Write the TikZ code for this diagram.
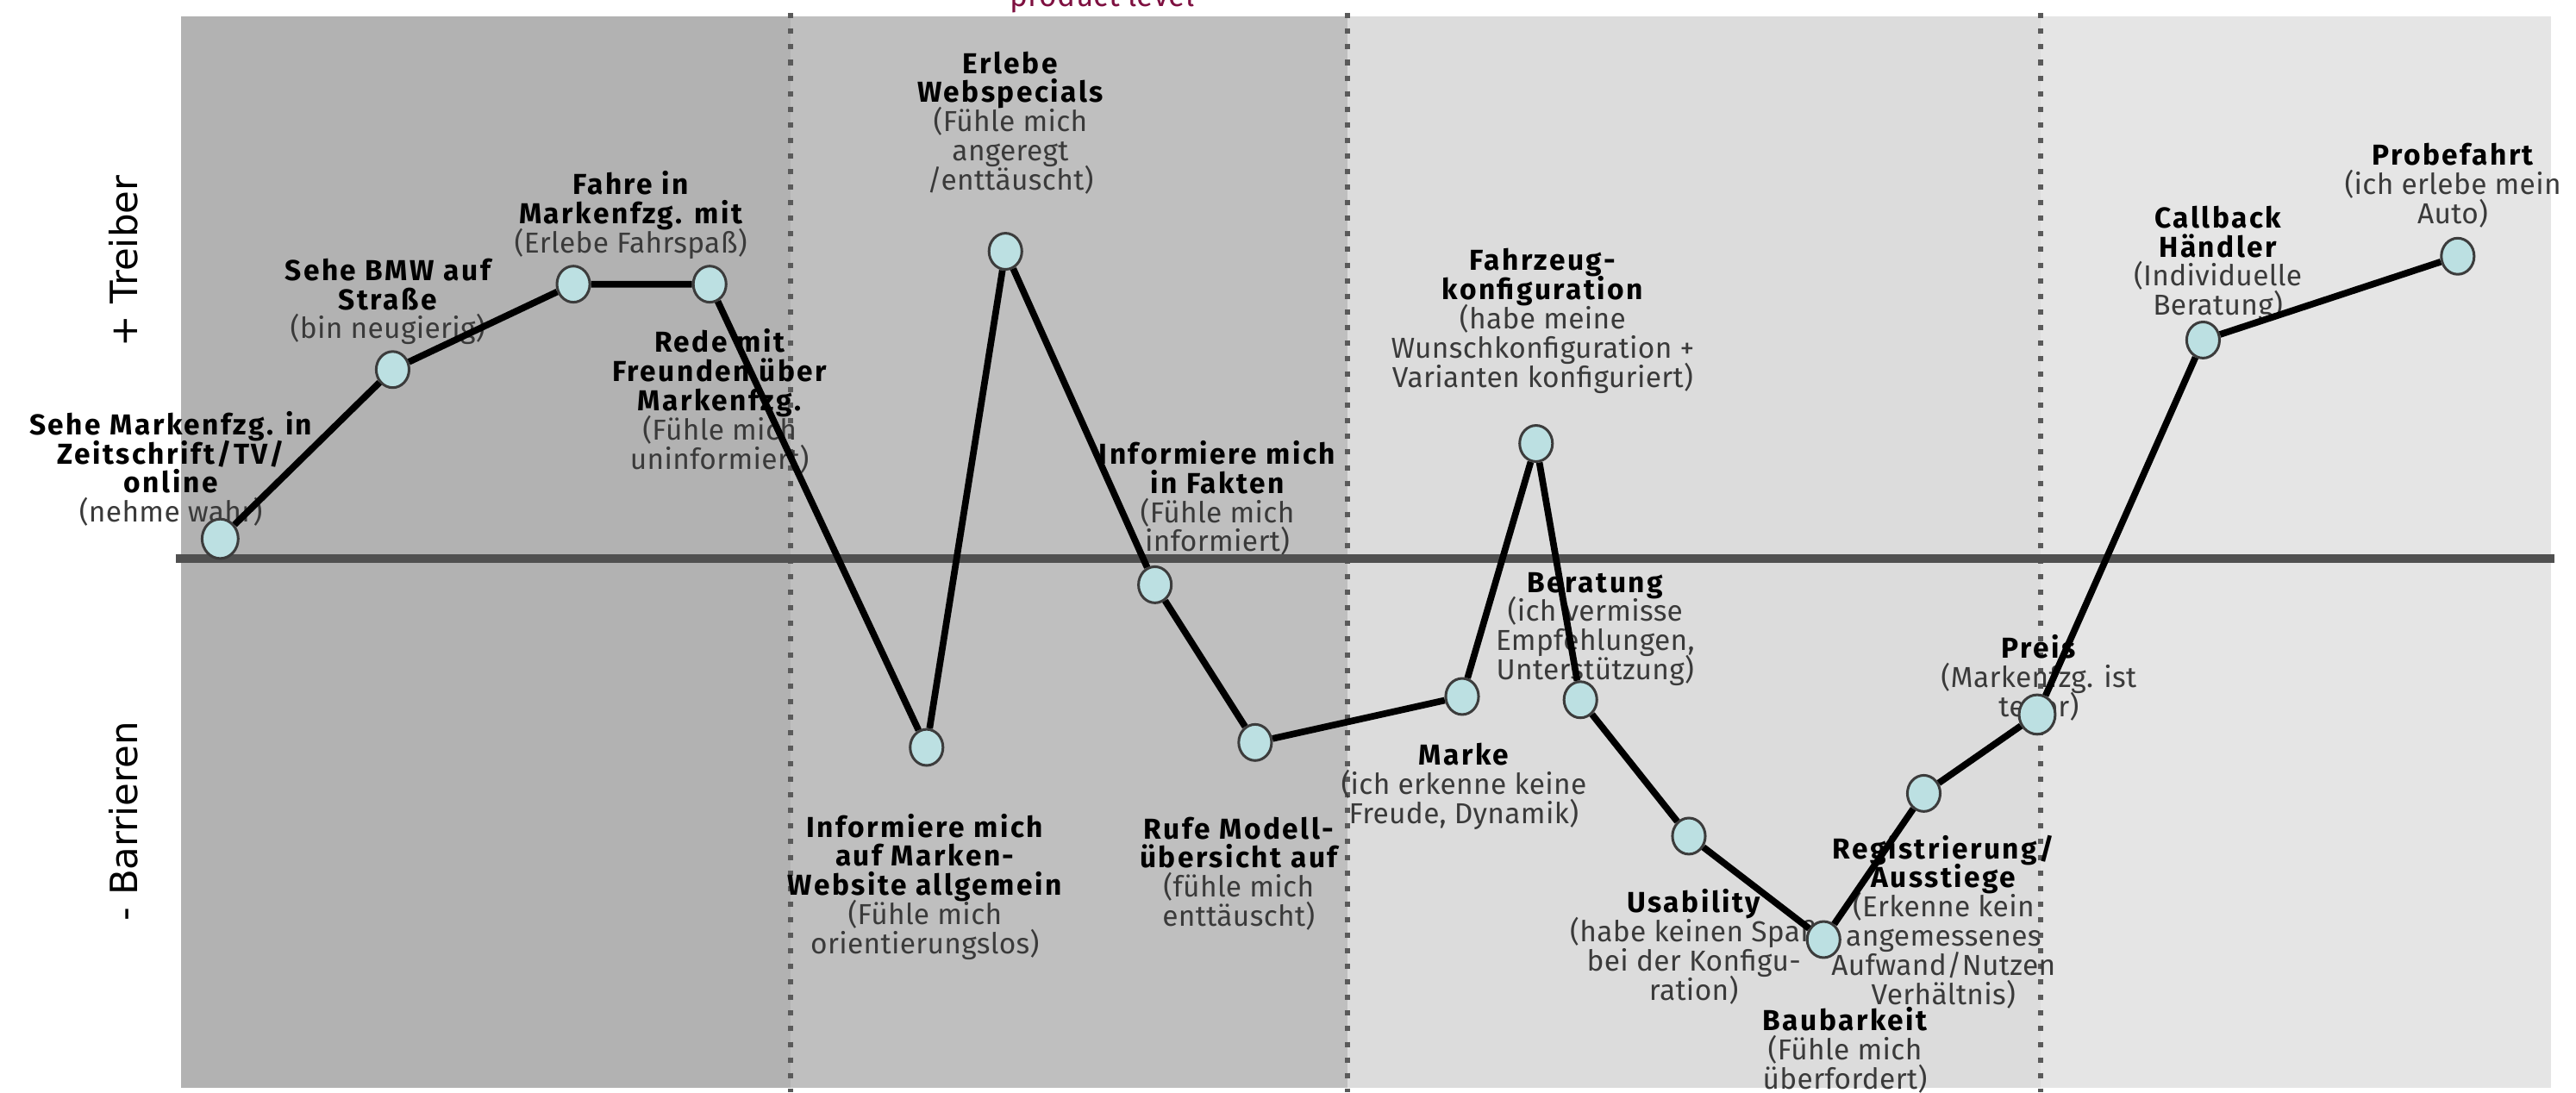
\documentclass[tikz,border=0pt]{standalone}
\usepackage{fontspec}
\setmainfont{Fira Sans}[BoldFeatures={LetterSpace=7.5}, UprightFeatures={LetterSpace=1}]
\newfontfamily\axisfont{DejaVu Sans}
\usetikzlibrary{shapes.geometric}

\definecolor{phaseA}{HTML}{B2B2B2}
\definecolor{phaseB}{HTML}{BFBFBF}
\definecolor{phaseC}{HTML}{DCDCDC}
\definecolor{phaseD}{HTML}{E5E5E5}
\definecolor{axisgray}{HTML}{505050}
\definecolor{dotgray}{HTML}{5A5A5A}
\definecolor{pointfill}{HTML}{BCE0E2}
\definecolor{pointline}{HTML}{3C3C3C}
\definecolor{feeltext}{HTML}{3A3A3A}
\definecolor{levelred}{HTML}{7E1040}

\newcommand{\feel}[1]{{\mdseries\color{feeltext}#1}}
\newcommand{\momentfont}{\bfseries\fontsize{10}{10.1}\selectfont\setlength{\lineskiplimit}{-20pt}}

\begin{document}
\begin{tikzpicture}[x=0.02cm, y=-0.02cm,
		touch/.style={ellipse, draw=pointline, line width=0.9pt, fill=pointfill, inner sep=0pt, minimum width=0.4cm, minimum height=0.44cm},
		bigtouch/.style={touch, minimum width=0.44cm, minimum height=0.48cm},
		moment/.style={font=\momentfont, align=center, inner sep=0pt, anchor=north},
		divider/.style={dotgray, line width=1.8pt, dash pattern=on 1.8pt off 3.6pt},
		journey/.style={line width=2.3pt, line join=round}]
	\useasboundingbox (0,0) rectangle (1568,665);
	% phases
	\fill [phaseA] (110,10) rectangle (481,662);
	\fill [phaseB] (481,10) rectangle (820,662);
	\fill [phaseC] (820,10) rectangle (1242,662);
	\fill [phaseD] (1242,10) rectangle (1553,662);
	\draw [divider] (481,8) -- (481,665);
	\draw [divider] (820,8) -- (820,665);
	\draw [divider] (1242,8) -- (1242,665);
	\node [anchor=base, inner sep=0pt, text=levelred, font=\fontsize{10.5}{12}\selectfont] (level) at (671,4) {product level};
	\node [rotate=90, font=\axisfont\fontsize{13}{13}\selectfont] (driver) at (75,159) {+ Treiber};
	\node [rotate=90, font=\axisfont\fontsize{13}{13}\selectfont] (barrier) at (75,500) {- Barrieren};
	% labels
	\node [moment] (media-l) at (104,250) {Sehe Markenfzg. in\\Zeitschrift/TV/\\online\\\feel{(nehme wahr)}};
	\node [moment] (street-l) at (236,157) {Sehe BMW auf\\Straße\\\feel{(bin neugierig)}};
	\node [moment] (ride-l) at (384,104) {Fahre in\\Markenfzg. mit\\\feel{(Erlebe Fahrspaß)}};
	\node [moment] (friends-l) at (438,200) {Rede mit\\Freunden über\\Markenfzg.\\\feel{(Fühle mich}\\\feel{uninformiert)}};
	\node [moment] (website-l) at (563,495) {Informiere mich\\auf Marken-\\Website allgemein\\\feel{(Fühle mich}\\\feel{orientierungslos)}};
	\node [moment] (specials-l) at (615,31) {Erlebe\\Webspecials\\\feel{(Fühle mich}\\\feel{angeregt}\\\feel{/enttäuscht)}};
	\node [moment] (facts-l) at (741,268) {Informiere mich\\in Fakten\\\feel{(Fühle mich}\\\feel{informiert)}};
	\node [moment] (models-l) at (754,497) {Rufe Modell-\\übersicht auf\\\feel{(fühle mich}\\\feel{enttäuscht)}};
	\node [moment] (brand-l) at (891,452) {Marke\\\feel{(ich erkenne keine}\\\feel{Freude, Dynamik)}};
	\node [moment] (config-l) at (939,151) {Fahrzeug-\\konfiguration\\\feel{(habe meine}\\\feel{Wunschkonfiguration +}\\\feel{Varianten konfiguriert)}};
	\node [moment] (advice-l) at (971,348) {Beratung\\\feel{(ich vermisse}\\\feel{Empfehlungen,}\\\feel{Unterstützung)}};
	\node [moment] (usability-l) at (1031,541) {Usability\\\feel{(habe keinen Spaß}\\\feel{bei der Konfigu-}\\\feel{ration)}};
	\node [moment] (build-l) at (1123,613) {Baubarkeit\\\feel{(Fühle mich}\\\feel{überfordert)}};
	\node [moment] (register-l) at (1183,508) {Registrierung/\\Ausstiege\\\feel{(Erkenne kein}\\\feel{angemessenes}\\\feel{Aufwand/Nutzen}\\\feel{Verhältnis)}};
	\node [moment] (price-l) at (1241,386) {Preis\\\feel{(Markenfzg. ist}\\\feel{teuer)}};
	\node [moment] (callback-l) at (1350,125) {Callback\\Händler\\\feel{(Individuelle}\\\feel{Beratung)}};
	\node [moment] (testdrive-l) at (1493,87) {Probefahrt\\\feel{(ich erlebe mein}\\\feel{Auto)}};
	% zero line
	\draw [axisgray, line width=2.8pt] (107,340) -- (1555,340);
	% touchpoints
	\node [bigtouch] (media) at (134,328) {};
	\node [touch] (street) at (239,225) {};
	\node [touch] (ride) at (349,173) {};
	\node [touch] (friends) at (432,173) {};
	\node [touch] (website) at (564,455) {};
	\node [touch] (specials) at (612,153) {};
	\node [touch] (facts) at (703,356) {};
	\node [touch] (models) at (764,452) {};
	\node [touch] (brand) at (890,424) {};
	\node [touch] (config) at (935,270) {};
	\node [touch] (advice) at (962,426) {};
	\node [touch] (usability) at (1028,509) {};
	\node [touch] (build) at (1110,572) {};
	\node [touch] (register) at (1171,483) {};
	\node [bigtouch] (price) at (1240,435) {};
	\node [touch] (callback) at (1341,207) {};
	\node [touch] (testdrive) at (1496,156) {};
	\draw [journey] (media) -- (street) -- (ride) -- (friends) -- (website) -- (specials) -- (facts) -- (models) -- (brand) -- (config) -- (advice) -- (usability) -- (build) -- (register) -- (price) -- (callback) -- (testdrive);
\end{tikzpicture}
\end{document}
